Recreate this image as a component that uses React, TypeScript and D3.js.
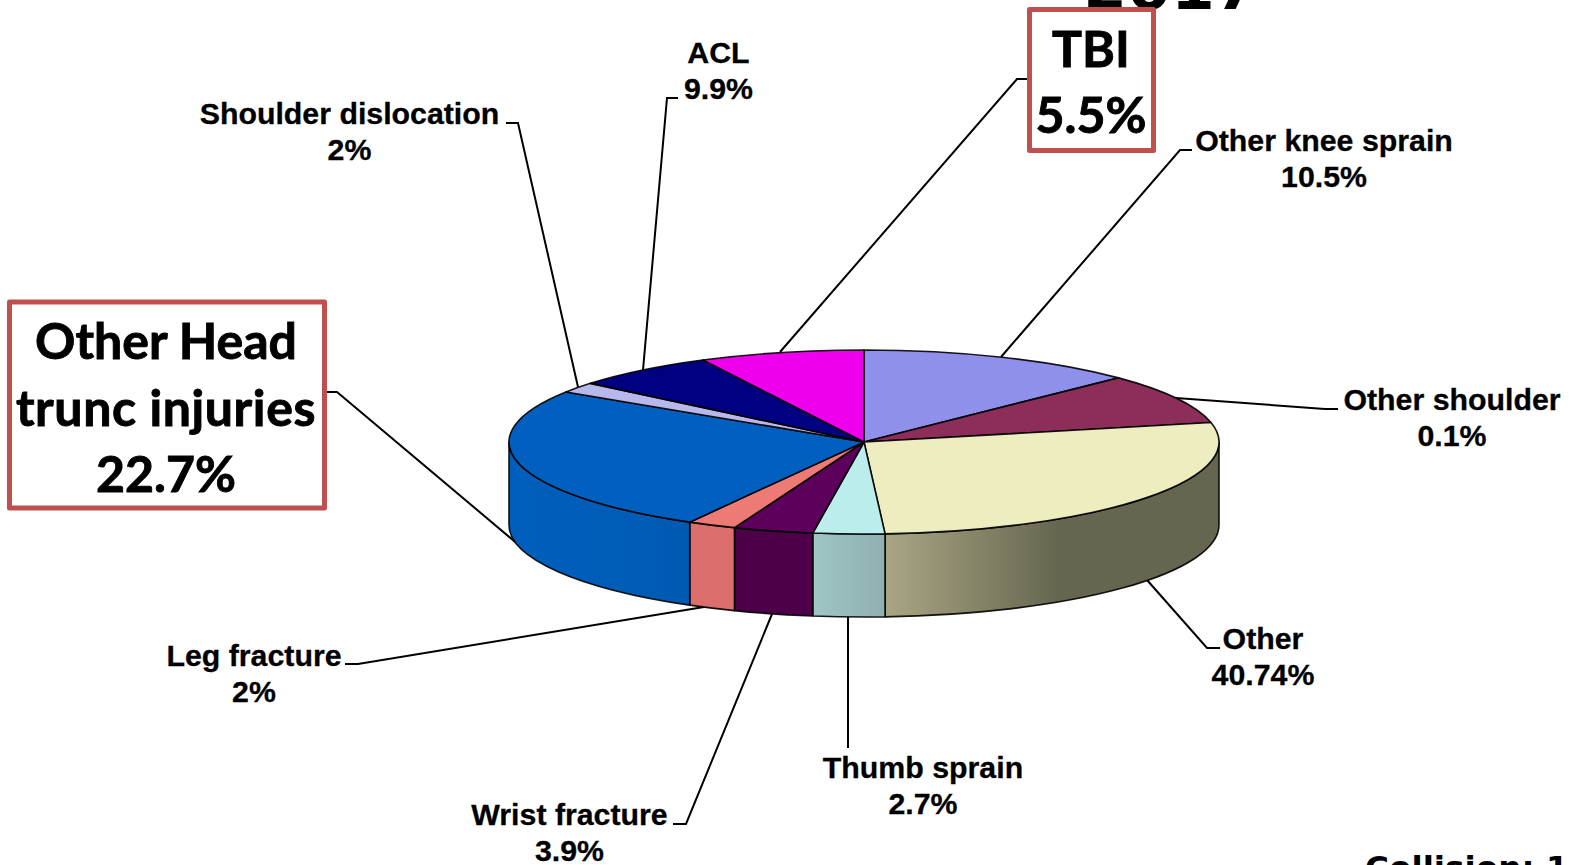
import React from "react";
import * as d3 from "d3";

// Category labels and printed percentages, clockwise from 12 o'clock
const categories = ["Other knee sprain", "Other shoulder", "Other", "Thumb sprain", "Wrist fracture", "Leg fracture", "Other Head trunc injuries", "Shoulder dislocation", "ACL", "TBI"];
const printedValues = ["10.5%", "0.1%", "40.74%", "2.7%", "3.9%", "2%", "22.7%", "2%", "9.9%", "5.5%"];
// Visible slice sizes (degrees of the un-tilted pie)
const sliceDegrees = [45.8, 32, 98.8, 11.7, 13.1, 8.0, 93.5, 6.7, 23.4, 27];
const topColors = ["#8f8fec", "#8c2d5a", "#ededbf", "#bbeded", "#5c005c", "#ee7a76", "#005fbf", "#b8b8ec", "#000080", "#ee00ee"];
const wallFrom = ["#7a7ac8", "#772650", "#aaa684", "#9fc5c5", "#4d0049", "#dc6e6e", "#005fbd", "#9c9cc8", "#00006c", "#c800c8"];
const wallTo = ["#7a7ac8", "#772650", "#666650", "#8fb0b0", "#4d0049", "#dc6e6e", "#005ab2", "#9c9cc8", "#00006c", "#c800c8"];
const wallStopEnd = [1, 1, 0.52, 1, 1, 1, 1, 1, 1, 1];

const W = 1569, H = 865;
const cx = 864, cy = 442, rx = 355, ry = 92, depth = 83;

// Label layout: text centre, first baseline; leader polyline
const plainLabels = [
  { i: 0, x: 1324, y: 150.5, leader: [[1192, 150], [1180, 150], [1001, 357]] },
  { i: 1, x: 1452, y: 409.5, leader: [[1338, 409], [1325, 409], [1176, 398]] },
  { i: 2, x: 1263, y: 648.5, leader: [[1220, 648], [1207, 648], [1147, 580]] },
  { i: 3, x: 923, y: 777.5, leader: [[848, 748], [848, 615]] },
  { i: 4, x: 569.5, y: 824.5, leader: [[673, 824], [686, 824], [772, 614]] },
  { i: 5, x: 254, y: 665.5, leader: [[345, 664], [358, 664], [710, 606]] },
  { i: 7, x: 349.5, y: 123.5, leader: [[506, 123], [518, 123], [578, 387]] },
  { i: 8, x: 718.5, y: 62.5, leader: [[678, 98], [667, 98], [643, 370]] },
];
const plainLineGap = 36;

const pie = d3.pie<number>().sort(null).value((d) => d).startAngle(0).endAngle(2 * Math.PI);
const arcGen = d3.arc<d3.PieArcDatum<number>>().innerRadius(0).outerRadius(rx);
const slices = pie(sliceDegrees);
const line = d3.line();

const P = (a: number, dy = 0) => [cx + rx * Math.sin(a), cy - ry * Math.cos(a) + dy];

function wallPath(a0: number, a1: number) {
  const [x0, y0] = P(a0);
  const [x1, y1] = P(a1);
  const [x2, y2] = P(a1, depth);
  const [x3, y3] = P(a0, depth);
  return `M${x0},${y0}A${rx},${ry} 0 0 1 ${x1},${y1}L${x2},${y2}A${rx},${ry} 0 0 0 ${x3},${y3}Z`;
}

const bold = "'Liberation Sans', Arial, sans-serif";
const callout = "Lato, sans-serif";
const verdana = "'DejaVu Sans', sans-serif";

export default function App() {
  const walls = slices
    .map((s, i) => ({ i, a0: Math.max(s.startAngle, Math.PI / 2), a1: Math.min(s.endAngle, (3 * Math.PI) / 2) }))
    .filter((d) => d.a1 > d.a0);
  return (
    <svg width={W} height={H} viewBox={`0 0 ${W} ${H}`} style={{ position: "absolute", left: 0, top: 0, display: "block", background: "#fff" }}>
      <defs>
        {walls.map((w) => (
          <linearGradient key={w.i} id={`wall${w.i}`} x1="0" x2="1" y1="0" y2="0">
            <stop offset="0" stopColor={wallFrom[w.i]} />
            <stop offset={wallStopEnd[w.i]} stopColor={wallTo[w.i]} />
          </linearGradient>
        ))}
      </defs>

      <text x={1171} y={9} textAnchor="middle" fontFamily={verdana} fontWeight={700} fontSize={63} fill="#000">2017</text>
      <text x={1365} y={879} fontFamily={verdana} fontWeight={700} fontSize={32.7} fill="#000">Collision: 13</text>

      <g fill="none" stroke="#000" strokeWidth={2}>
        {plainLabels.map((l) => <path key={l.i} d={line(l.leader as [number, number][]) as string} />)}
        <path d={line([[1028, 79], [1017, 79], [780, 352]]) as string} />
        <path d={line([[326, 392], [337, 392], [520, 546]]) as string} />
      </g>

      {walls.map((w) => (
        <path key={w.i} d={wallPath(w.a0, w.a1)} fill={`url(#wall${w.i})`} stroke="#000" strokeOpacity={0.9} strokeWidth={1.6} strokeLinejoin="round" />
      ))}
      <g transform={`translate(${cx},${cy}) scale(1,${ry / rx})`}>
        {slices.map((s, i) => (
          <path key={i} d={arcGen(s) as string} fill={topColors[i]} stroke="#000" strokeOpacity={0.9} strokeWidth={1.6} strokeLinejoin="round" style={{ vectorEffect: "non-scaling-stroke" }} />
        ))}
      </g>

      <g fontFamily={bold} fontWeight={700} fontSize={30.3} fill="#000" stroke="#000" strokeWidth={0.3} textAnchor="middle">
        {plainLabels.map((l) => (
          <g key={l.i}>
            <text x={l.x} y={l.y}>{categories[l.i]}</text>
            <text x={l.x} y={l.y + plainLineGap}>{printedValues[l.i]}</text>
          </g>
        ))}
      </g>

      <g fill="#fff" stroke="#c0504d" strokeWidth={5} strokeLinejoin="round">
        <rect x={1029.5} y={9.5} width={124} height={141} />
        <rect x={9.5} y={302} width={315} height={206} />
      </g>
      <g fontFamily={callout} fontWeight={700} fontSize={50} fill="#000" stroke="#000" strokeWidth={0.9} textAnchor="middle">
        <text x={1091} y={66.5}>{categories[9]}</text>
        <text x={1091} y={132.5}>{printedValues[9]}</text>
        <text x={166} y={358.5}>Other Head</text>
        <text x={166} y={425.5} letterSpacing={0.6}>trunc injuries</text>
        <text x={166} y={491.5}>{printedValues[6]}</text>
      </g>
    </svg>
  );
}
